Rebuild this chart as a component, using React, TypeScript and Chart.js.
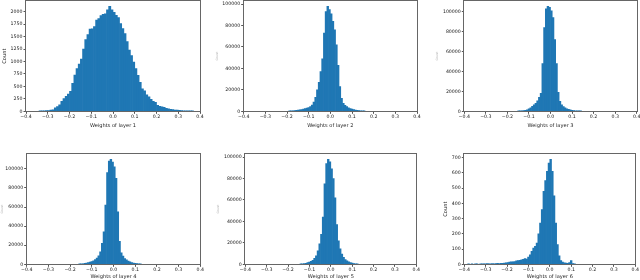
import React, { useEffect, useRef } from 'react';
import { Chart, registerables } from 'chart.js';

Chart.register(...registerables);

const FONT = 'DejaVu Sans';
const BAR_COLOR = '#1f77b4';

const xTickValues = [-0.4, -0.3, -0.2, -0.1, 0, 0.1, 0.2, 0.3, 0.4];

// Layer 1 histogram (bin width 0.01, first bin starts at -0.34)
const layer1Start = -0.34;
const layer1Width = 0.01;
const layer1Counts = [
  6, 8, 10, 12, 16, 22, 30, 70, 95, 130,
  200, 255, 300, 345, 400, 560, 730, 860, 950, 1050,
  1250, 1440, 1540, 1650, 1655, 1700, 1830, 1860, 1925, 1950,
  1960, 2040, 2110, 2040, 1990, 1930, 1880, 1760, 1660, 1560,
  1400, 1230, 1120, 990, 860, 720, 580, 450, 410, 330,
  290, 240, 200, 180, 120, 100, 88, 80, 62, 52,
  40, 33, 27, 22, 18, 14, 11, 8, 6, 5,
  3,
];
const layer1YTicks = [0, 250, 500, 750, 1000, 1250, 1500, 1750, 2000];

// Layer 2 histogram (bin width 0.008)
const layer2Start = -0.192;
const layer2Width = 0.008;
const layer2Counts = [
  200, 400, 500, 700, 900, 1100, 1400, 1700, 2100, 2600,
  3100, 3500, 4300, 5800, 8500, 13000, 20000, 27000, 37000, 49000,
  73000, 93000, 98000, 95000, 91000, 84000, 76000, 62000, 43000, 23000,
  12000, 7500, 5500, 4300, 3300, 2600, 2100, 1600, 1200, 900,
  700, 500, 350, 250,
];
const bigYTicks = [0, 20000, 40000, 60000, 80000, 100000];

// Layer 3 histogram
const layer3Start = -0.152;
const layer3Width = 0.008;
const layer3Counts = [
  250, 400, 550, 750, 1000, 1600, 2500, 3500, 5000, 6500,
  8000, 10500, 14000, 18000, 48000, 84000, 103000, 105500, 104500, 101000,
  94000, 72000, 48000, 19000, 10000, 6500, 4800, 3500, 2600, 1900,
  1400, 1000, 750, 550, 400, 280, 180,
];

// Layer 4 histogram
const layer4Start = -0.16;
const layer4Width = 0.008;
const layer4Counts = [
  250, 400, 600, 900, 1300, 1800, 2300, 2900, 3700, 5000,
  6500, 9000, 13000, 22000, 34000, 62000, 96000, 108000, 110000, 107000,
  102000, 90000, 55000, 24000, 12000, 8500, 6000, 4600, 3500, 2600,
  1900, 1400, 1000, 700, 450, 300,
];

// Layer 5 histogram
const layer5Start = -0.144;
const layer5Width = 0.008;
const layer5Counts = [
  200, 350, 600, 1000, 1500, 2000, 2700, 3800, 5500, 8000,
  12500, 19000, 28000, 44000, 75000, 94000, 98000, 95500, 89000, 80000,
  62000, 37000, 22000, 14500, 9500, 6500, 4500, 3200, 2300, 1600,
  1100, 700, 400, 250,
];

// Layer 6 histogram
const layer6Start = -0.384;
const layer6Width = 0.008;
const layer6Counts = [
  2, 0, 3, 0, 1, 2, 0, 1, 3, 2,
  1, 4, 2, 3, 5, 3, 4, 6, 5, 7,
  6, 8, 9, 11, 14, 16, 17, 18, 22, 24,
  26, 29, 33, 38, 34, 48, 62, 85, 106, 118,
  140, 200, 270, 360, 480, 550, 610, 665, 690, 610,
  450, 270, 130, 55, 25, 15, 10, 8, 6, 12,
  25, 5, 2,
];
const layer6YTicks = [0, 100, 200, 300, 400, 500, 600, 700];

type PanelCfg = {
  left: number; top: number; w: number; h: number;
  aL: number; aR: number; aT: number; aB: number;
  start: number; width: number; counts: number[];
  yTicks: number[];
  xTitle: string;
  xTitlePadB: number;
  yTitleSize: number; yTitleColor: string; yTitlePad: number;
};

const panels: PanelCfg[] = [
  { left: 0, top: 0, w: 213, h: 140, aL: 26, aR: 200, aT: 1, aB: 111.3,
    start: layer1Start, width: layer1Width, counts: layer1Counts, yTicks: layer1YTicks,
    xTitle: 'Weights of layer 1', xTitlePadB: 11.2, yTitleSize: 5.1, yTitleColor: '#222', yTitlePad: 1.6 },
  { left: 213, top: 0, w: 213, h: 140, aL: 30.7, aR: 204, aT: 1, aB: 111.3,
    start: layer2Start, width: layer2Width, counts: layer2Counts, yTicks: bigYTicks,
    xTitle: 'Weights of layer 2', xTitlePadB: 11.2, yTitleSize: 3, yTitleColor: '#aaa', yTitlePad: 2.5 },
  { left: 426, top: 0, w: 214, h: 140, aL: 38.3, aR: 210.7, aT: 1, aB: 111.3,
    start: layer3Start, width: layer3Width, counts: layer3Counts, yTicks: bigYTicks,
    xTitle: 'Weights of layer 3', xTitlePadB: 11.2, yTitleSize: 3, yTitleColor: '#aaa', yTitlePad: 9.9 },
  { left: 0, top: 140, w: 213, h: 140, aL: 26.7, aR: 200.3, aT: 14, aB: 124.3,
    start: layer4Start, width: layer4Width, counts: layer4Counts, yTicks: bigYTicks,
    xTitle: 'Weights of layer 4', xTitlePadB: 0.3, yTitleSize: 3, yTitleColor: '#aaa', yTitlePad: 0 },
  { left: 213, top: 140, w: 213, h: 140, aL: 32.3, aR: 203.3, aT: 14, aB: 124.3,
    start: layer5Start, width: layer5Width, counts: layer5Counts, yTicks: bigYTicks,
    xTitle: 'Weights of layer 5', xTitlePadB: 0.3, yTitleSize: 3, yTitleColor: '#aaa', yTitlePad: 3.2 },
  { left: 426, top: 140, w: 214, h: 140, aL: 38.3, aR: 209.3, aT: 14, aB: 124.3,
    start: layer6Start, width: layer6Width, counts: layer6Counts, yTicks: layer6YTicks,
    xTitle: 'Weights of layer 6', xTitlePadB: 0.3, yTitleSize: 5.1, yTitleColor: '#222', yTitlePad: 16.2 },
];

const fmtX = (v: number) => {
  const r = Math.round(v * 10) / 10;
  if (Math.abs(r) < 1e-9) return '0.0';
  return (r < 0 ? '\u2212' : '') + Math.abs(r).toFixed(1);
};

const framePlugin = {
  id: 'frame',
  afterDatasetsDraw(chart: any) {
    const { ctx, chartArea: a } = chart;
    ctx.save();
    ctx.strokeStyle = '#666';
    ctx.lineWidth = 1;
    const l = Math.round(a.left) - 0.5;
    const t = Math.round(a.top) - 0.5;
    const r = Math.round(a.right) + 0.5;
    const b = Math.round(a.bottom) + 0.5;
    ctx.strokeRect(l, t, r - l, b - t);
    ctx.restore();
  },
};

function Panel({ cfg }: { cfg: PanelCfg }) {
  const ref = useRef<HTMLCanvasElement>(null);
  useEffect(() => {
    const pts = cfg.counts.map((c, i) => ({ x: cfg.start + cfg.width * (i + 0.5), y: c }));
    const yMax = Math.max(...cfg.counts) * 1.05;
    const chart = new Chart(ref.current as HTMLCanvasElement, {
      type: 'bar',
      data: {
        datasets: [{
          data: pts as any,
          backgroundColor: BAR_COLOR,
          borderWidth: 0,
          barPercentage: 1,
          categoryPercentage: 1,
        }],
      },
      options: {
        animation: false,
        responsive: false,
        maintainAspectRatio: false,
        devicePixelRatio: 1,
        layout: { padding: { left: 0, top: cfg.aT, right: cfg.w - cfg.aR, bottom: 0 } },
        plugins: { legend: { display: false }, tooltip: { enabled: false } },
        scales: {
          x: {
            type: 'linear',
            min: -0.4,
            max: 0.4,
            offset: false,
            afterBuildTicks: (s: any) => { s.ticks = xTickValues.map((v) => ({ value: v })); },
            afterFit: (s: any) => {
              s.height = cfg.h - cfg.aB;
              s.paddingLeft = 0; s.paddingRight = 0; s.paddingTop = 0; s.paddingBottom = 0;
            },
            ticks: {
              callback: (v: any) => fmtX(Number(v)),
              font: { family: FONT, size: 4.7 },
              color: '#222',
              padding: 0.5,
              maxRotation: 0,
              minRotation: 0,
              autoSkip: false,
            },
            grid: { drawOnChartArea: false, drawTicks: true, tickLength: 2.5, color: '#555', offset: false },
            border: { display: false },
            title: {
              display: true,
              text: cfg.xTitle,
              font: { family: FONT, size: 5.1 },
              color: '#222',
              padding: { top: 0, bottom: cfg.xTitlePadB },
            },
          } as any,
          y: {
            type: 'linear',
            min: 0,
            max: yMax,
            afterBuildTicks: (s: any) => { s.ticks = cfg.yTicks.map((v) => ({ value: v })); },
            afterFit: (s: any) => {
              s.width = cfg.aL;
              s.paddingLeft = 0; s.paddingRight = 0; s.paddingTop = 0; s.paddingBottom = 0;
            },
            ticks: {
              callback: (v: any) => String(v),
              font: { family: FONT, size: 4.7 },
              color: '#222',
              padding: 1,
            },
            grid: { drawOnChartArea: false, drawTicks: true, tickLength: 2.5, color: '#555' },
            border: { display: false },
            title: {
              display: true,
              text: 'Count',
              font: { family: FONT, size: cfg.yTitleSize },
              color: cfg.yTitleColor,
              padding: { top: cfg.yTitlePad, bottom: 0 },
            },
          } as any,
        },
      },
      plugins: [framePlugin],
    });
    return () => chart.destroy();
  }, [cfg]);
  return (
    <canvas
      ref={ref}
      width={cfg.w}
      height={cfg.h}
      style={{ position: 'absolute', left: cfg.left, top: cfg.top, width: cfg.w, height: cfg.h }}
    />
  );
}

export default function App() {
  return (
    <div style={{ position: 'fixed', left: 0, top: 0, width: 640, height: 280, background: '#fff', overflow: 'hidden' }}>
      {panels.map((p, i) => (
        <Panel key={i} cfg={p} />
      ))}
    </div>
  );
}
